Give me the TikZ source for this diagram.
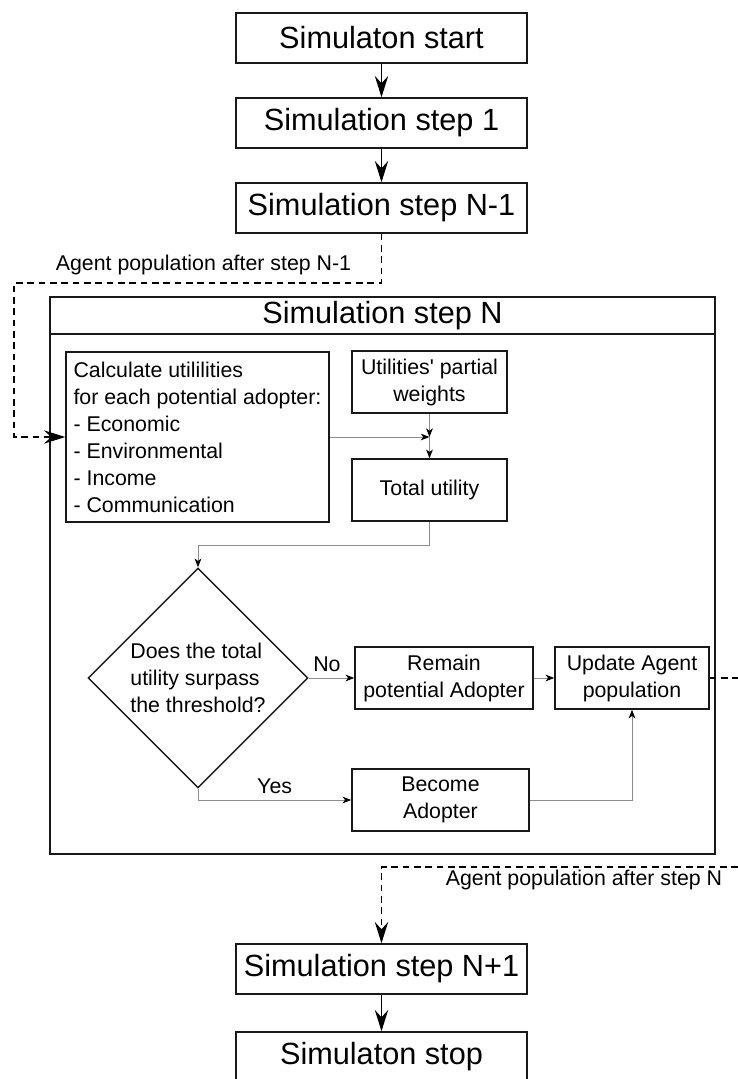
\documentclass[tikz,border=0pt]{standalone}
\usepackage{fontspec}
\setmainfont{Liberation Sans}
\usetikzlibrary{arrows.meta,shapes.geometric}
\begin{document}
\begin{tikzpicture}[x=0.75pt,y=-0.75pt,
 box/.style={draw=black!90, line width=1.1pt, rectangle, inner sep=0pt, align=center},
 bigbox/.style={box, minimum width=218.25pt, minimum height=37.5pt, font=\fontsize{23}{27}\selectfont},
 inbox/.style={box, font=\fontsize{16}{20.25}\selectfont, minimum height=46.5pt},
 bigarrow/.style={line width=1pt, -{Stealth[length=16pt,width=10pt,inset=5.5pt]}},
 dasharrow/.style={line width=0.9pt, dash pattern=on 5pt off 3.5pt, -{Stealth[length=16pt,width=10pt,inset=5.5pt]}},
 dashline/.style={line width=0.9pt, dash pattern=on 5pt off 3.5pt},
 thinarrow/.style={draw=black!45, line width=0.75pt, -{Stealth[length=6.5pt,width=5pt,inset=1.8pt,color=black]}},
 lab/.style={font=\fontsize{16}{20}\selectfont, inner sep=0pt},
]
\useasboundingbox (0,0) rectangle (738,1079);
\clip (0,0) rectangle (738,1079);

% top chain
\node[bigbox] (start) at (381.5,38) {Simulaton start};
\node[bigbox] (s1) at (381.5,123) {Simulation step 1};
\node[bigbox] (sn1) at (381.5,208) {Simulation step N-1};

% outer frame of step N
\node[draw=black!90, line width=1.5pt, minimum width=498.75pt, minimum height=417.75pt, inner sep=0pt] (sn) at (382.5,575.5) {};
\node[font=\fontsize{23}{27}\selectfont, inner sep=0pt] (snt) at (382.5,315.5) {Simulation step N};
\coordinate (hl) at (0,334);
\draw[line width=1.5pt, draw=black!90] (sn.west |- hl) -- (sn.east |- hl);

% inner nodes
\node[inbox, minimum width=197.25pt, minimum height=127.5pt, align=left] (calc) at (197.5,437)
 {Calculate utililities\\for each potential adopter:\\- Economic\\- Environmental\\- Income\\- Communication};
\node[inbox, minimum width=116.25pt] (w) at (429.5,382) {Utilities\textquotesingle{} partial\\weights};
\node[inbox, minimum width=116.25pt] (tot) at (429.5,490) {Total utility};
\node[diamond, draw=black!90, line width=1.1pt, minimum width=165pt, minimum height=165pt, inner sep=0pt, align=left, font=\fontsize{16}{20.25}\selectfont] (dec) at (198,678) {Does the total\\utility surpass\\the threshold?};
\node[inbox, minimum width=133.5pt] (rem) at (444,678) {Remain\\potential Adopter};
\node[inbox, minimum width=115.5pt] (upd) at (632,678) {Update Agent\\population};
\node[inbox, minimum width=132.75pt] (bec) at (440.5,800) {Become\\Adopter};

% bottom chain
\node[bigbox] (np1) at (381.5,969) {Simulation step N+1};
\node[bigbox] (stop) at (381.5,1057) {Simulaton stop};

% labels
\node[lab] (l1) at (203.5,265) {Agent population after step N-1};
\node[lab] (l2) at (584,880) {Agent population after step N};

% connectors
\draw[bigarrow] (start.south) -- (s1.north);
\draw[bigarrow] (s1.south) -- (sn1.north);
\coordinate (d2) at (14,283);
\draw[dasharrow] (sn1.south) |- (d2) |- (calc.west);

\coordinate (j) at (calc.east -| w.south);
\draw[thinarrow] (calc.east) -- (j);
\draw[thinarrow] (w.south) -- (j);
\draw[thinarrow] (j) -- (tot.north);
\coordinate (t1) at (429.5,545);
\draw[thinarrow] (tot.south) -- (t1) -| (dec.north);
\draw[thinarrow] (dec.east) -- node[lab, above=4pt, pos=0.4] (no) {No} (rem.west);
\draw[thinarrow] (rem.east) -- (upd.west);
\draw[thinarrow] (dec.south) |- node[lab, above=4pt, pos=0.75] (yes) {Yes} (bec.west);
\draw[thinarrow] (bec.east) -| (upd.south);

\coordinate (e1) at (738,678);
\draw[dashline] (upd.east) -- (e1);
\coordinate (e2) at (738,867);
\draw[dasharrow] (e2) -| (np1.north);
\draw[bigarrow] (np1.south) -- (stop.north);
\end{tikzpicture}
\end{document}
